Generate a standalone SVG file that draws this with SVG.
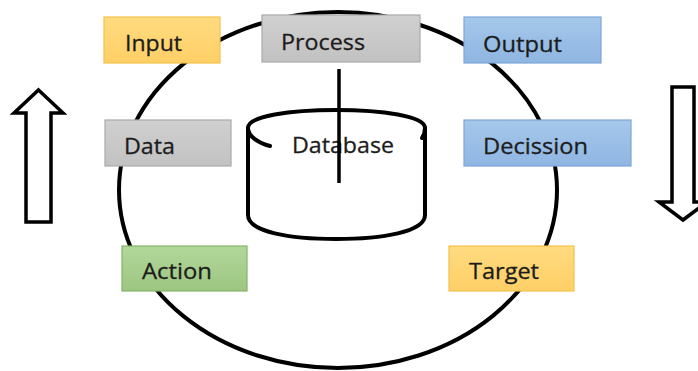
<svg xmlns="http://www.w3.org/2000/svg" width="698" height="371" viewBox="0 0 698 371">
<style>
.ln{fill:none;stroke:#000;stroke-width:4;stroke-linecap:round;stroke-linejoin:round}
.ar{fill:#fff;stroke:#000;stroke-width:3.5;stroke-linejoin:miter}
.t{font-family:"Open Sans","Noto Sans",sans-serif;font-size:22px;fill:#1c1c1c;stroke:#1c1c1c;stroke-width:0.3}
.box{stroke-width:1.2}
</style>
<defs>
<linearGradient id="gy" x1="0" y1="0" x2="0" y2="1"><stop offset="0" stop-color="#ffdb80"/><stop offset="1" stop-color="#ffcf66"/></linearGradient>
<linearGradient id="gg" x1="0" y1="0" x2="0" y2="1"><stop offset="0" stop-color="#d0d0d0"/><stop offset="1" stop-color="#c2c2c2"/></linearGradient>
<linearGradient id="gb" x1="0" y1="0" x2="0" y2="1"><stop offset="0" stop-color="#a5c8ea"/><stop offset="1" stop-color="#8fb5e2"/></linearGradient>
<linearGradient id="gn" x1="0" y1="0" x2="0" y2="1"><stop offset="0" stop-color="#b2d79a"/><stop offset="1" stop-color="#9cc681"/></linearGradient>
</defs>

<g id="cycle">
<ellipse class="ln" cx="338" cy="190" rx="219" ry="178"/>
</g>

<g id="database">
<path d="M248,128 L248,215 C248,232 290,239 336,239 C382,239 425,232 425,215 L425,128 C425,116 382,110 336,110 C290,110 248,116 248,128 Z" fill="#fff" stroke="none"/>
<path class="ln" d="M248,128 L248,215 C248,232 290,239 336,239 C382,239 425,232 425,215 L425,128"/>
<path class="ln" d="M248,128 C248,116 290,110 336,110 C382,110 425,116 425,128"/>
<path class="ln" d="M248,128 C248,136 258,143 270,146"/>
<path class="ln" d="M425,128 C425,132 424,135 422,138"/>
<text class="t" x="292" y="153" textLength="102" lengthAdjust="spacingAndGlyphs">Database</text>
</g>

<g id="connectors">
<line x1="339" y1="69" x2="339" y2="183" stroke="#000" stroke-width="3.5"/>
</g>

<g id="input">
<rect class="box" x="104" y="17" width="116" height="46" fill="url(#gy)" stroke="#f2c14e"/>
<text class="t" x="125" y="51" textLength="57" lengthAdjust="spacingAndGlyphs">Input</text>
</g>
<g id="process">
<rect class="box" x="262" y="15" width="158" height="47" fill="url(#gg)" stroke="#aaaaaa"/>
<text class="t" x="281" y="50" textLength="84" lengthAdjust="spacingAndGlyphs">Process</text>
</g>
<g id="output">
<rect class="box" x="464" y="17" width="137" height="46" fill="url(#gb)" stroke="#7ea6d6"/>
<text class="t" x="483" y="52" textLength="79" lengthAdjust="spacingAndGlyphs">Output</text>
</g>
<g id="data">
<rect class="box" x="105" y="120" width="126" height="46" fill="url(#gg)" stroke="#aaaaaa"/>
<text class="t" x="124" y="154" textLength="51" lengthAdjust="spacingAndGlyphs">Data</text>
</g>
<g id="decission">
<rect class="box" x="464" y="120" width="167" height="46" fill="url(#gb)" stroke="#7ea6d6"/>
<text class="t" x="483" y="154" textLength="105" lengthAdjust="spacingAndGlyphs">Decission</text>
</g>
<g id="action">
<rect class="box" x="122" y="246" width="125" height="45" fill="url(#gn)" stroke="#86b26a"/>
<text class="t" x="142" y="279" textLength="70" lengthAdjust="spacingAndGlyphs">Action</text>
</g>
<g id="target">
<rect class="box" x="449" y="246" width="125" height="45" fill="url(#gy)" stroke="#f2c14e"/>
<text class="t" x="469" y="279" textLength="70" lengthAdjust="spacingAndGlyphs">Target</text>
</g>

<g id="arrow-up">
<path class="ar" d="M38.5,90 L63,113 L51,113 L51,222 L26,222 L26,113 L14,113 Z"/>
</g>
<g id="arrow-down">
<path class="ar" d="M672,87 L694,87 L694,202 L707,202 L683,220 L659,202 L672,202 Z"/>
</g>
</svg>
